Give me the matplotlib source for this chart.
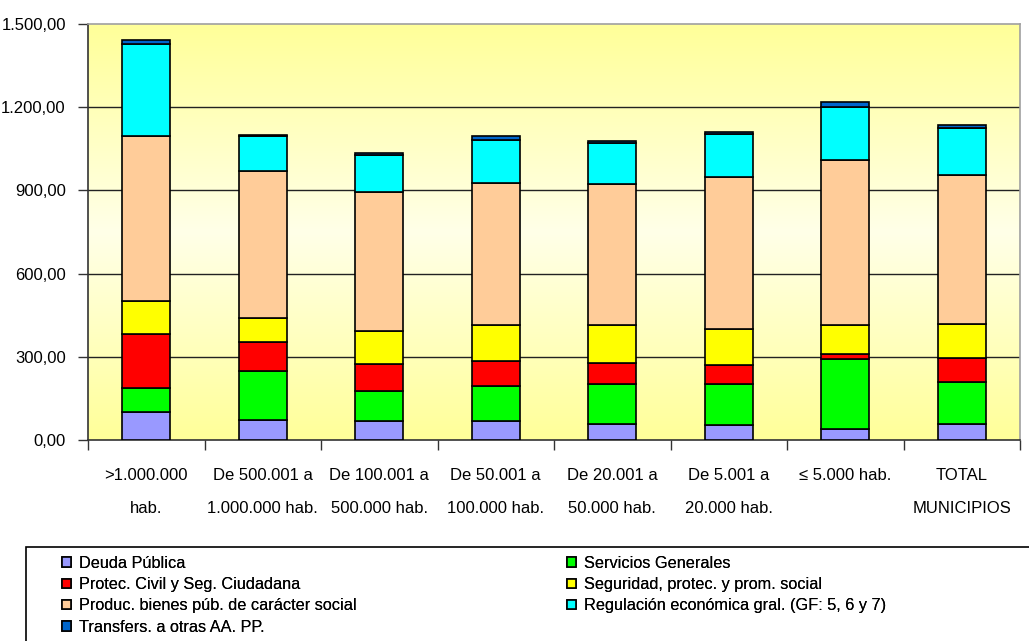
import numpy as np
import matplotlib
matplotlib.use("Agg")
import matplotlib.pyplot as plt
from matplotlib.patches import Patch, Rectangle
from matplotlib.ticker import FuncFormatter

plt.rcParams['font.family'] = ['Liberation Sans', 'DejaVu Sans']

#-------- DATOS ---------------------------------------
categorias = [">1.000.000\nhab.", "De 500.001 a\n1.000.000 hab.", "De 100.001 a\n500.000 hab.",
              "De 50.001 a\n100.000 hab.", "De 20.001 a\n50.000 hab.", "De 5.001 a\n20.000 hab.",
              "\u2264 5.000 hab.\n", "TOTAL\nMUNICIPIOS"]

deuda = [101, 73, 67, 67, 59, 53, 41, 59]
servicios = [86, 177, 109, 128, 143, 149, 250, 150]
protec = [197, 102, 97, 91, 76, 70, 19, 88]
seguridad = [116, 89, 120, 128, 136, 127, 104, 122]
produc = [596, 528, 501, 514, 508, 551, 597, 537]
regulacion = [331, 128, 135, 155, 149, 153, 189, 169]
transfers = [14, 3, 6, 14, 6, 9, 20, 12]

series = [
    ("Deuda Pública", deuda, "#9999FF"),
    ("Servicios Generales", servicios, "#00FF00"),
    ("Protec. Civil y Seg. Ciudadana", protec, "#FF0000"),
    ("Seguridad, protec. y prom. social", seguridad, "#FFFF00"),
    ("Produc. bienes púb. de carácter social", produc, "#FFCC99"),
    ("Regulación económica gral. (GF: 5, 6 y 7)", regulacion, "#00FFFF"),
    ("Transfers. a otras AA. PP.", transfers, "#0066CC"),
]

#-------- FIGURA --------------------------------------
fig = plt.figure(figsize=(10.29, 6.41), dpi=100)
ax = fig.add_axes([88 / 1029, 1 - 440 / 641, 932 / 1029, 416 / 641])

# fondo degradado amarillo
t = np.linspace(0, 1, 256)
k = 1 - np.abs(2 * t - 1)
amarillo = np.array([1.0, 1.0, 0.60])
claro = np.array([1.0, 1.0, 0.91])
grad = amarillo[None, :] * (1 - k[:, None]) + claro[None, :] * k[:, None]
grad = grad[:, None, :]
ax.imshow(grad, extent=[0, 1, 0, 1], transform=ax.transAxes, aspect='auto', zorder=0)

x = np.arange(len(categorias))
bottom = np.zeros(len(categorias))
for nombre, vals, color in series:
    ax.bar(x, vals, width=0.41, bottom=bottom, color=color, edgecolor='black',
           linewidth=1.2, zorder=3)
    bottom += np.array(vals)

ax.set_xlim(-0.5, len(categorias) - 0.5)
ax.set_ylim(0, 1500)
ax.set_yticks([0, 300, 600, 900, 1200, 1500])
ax.yaxis.set_major_formatter(FuncFormatter(
    lambda v, p: f"{v:,.2f}".replace(",", "X").replace(".", ",").replace("X", ".")))
for yv in [300, 600, 900, 1200]:
    ax.axhline(yv, color='#222222', linewidth=1, zorder=1)

ax.set_xticks(x)
ax.set_xticklabels(categorias, linespacing=2.5)
ax.set_xticks(np.arange(-0.5, len(categorias)), minor=True)
ax.tick_params(axis='x', which='major', length=0, pad=20, labelsize=12)
ax.tick_params(axis='x', which='minor', length=7, width=1, color='#333333')
ax.tick_params(axis='y', length=7, width=1, pad=9, labelsize=12, color='#333333')

ax.spines['left'].set_color('#333333')
ax.spines['bottom'].set_color('#333333')
ax.spines['top'].set_color('#A0A0A0')
ax.spines['right'].set_color('#A0A0A0')
for s in ax.spines.values():
    s.set_linewidth(1.2)

#-------- LEYENDA -------------------------------------
fig.patches.append(Rectangle((26 / 1029, -0.2), 1.2, 0.2 + (641 - 547) / 641,
                             transform=fig.transFigure, fill=False,
                             edgecolor='black', linewidth=1.2))

h = {n: Patch(facecolor=c, edgecolor='black', linewidth=1.2) for n, v, c in series}
col1 = ["Deuda Pública", "Protec. Civil y Seg. Ciudadana",
        "Produc. bienes púb. de carácter social", "Transfers. a otras AA. PP."]
col2 = ["Servicios Generales", "Seguridad, protec. y prom. social",
        "Regulación económica gral. (GF: 5, 6 y 7)"]

for col, x0 in [(col1, 62), (col2, 567)]:
    leg = fig.legend([h[n] for n in col], col, loc='upper left',
                     bbox_to_anchor=(x0 / 1029, 1 - 556 / 641), frameon=False,
                     fontsize=11.7, handlelength=0.55, handleheight=0.55,
                     handletextpad=0.5, labelspacing=0.38, borderpad=0,
                     borderaxespad=0)
    fig.add_artist(leg)

fig.savefig("out.png", dpi=100)
